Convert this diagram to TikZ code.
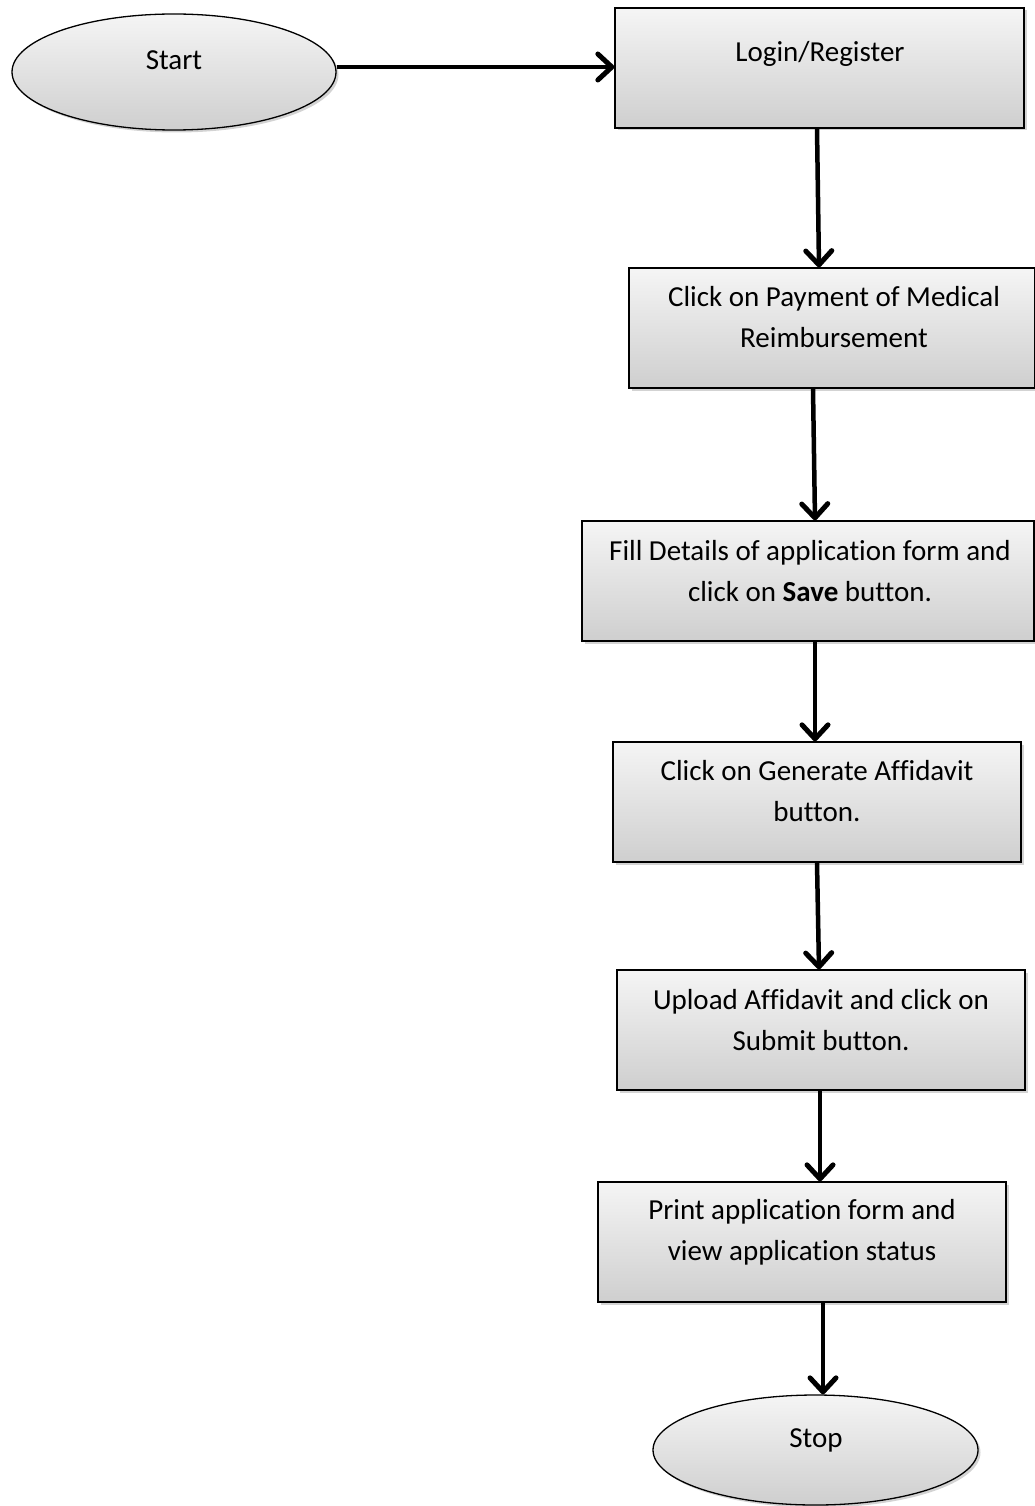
\documentclass[tikz,border=0pt]{standalone}
\usepackage{fontspec}
\setmainfont[Ligatures=NoCommon]{Carlito}
\usetikzlibrary{shapes.geometric,arrows.meta,shadows}
\begin{document}
\begin{tikzpicture}[x=1pt,y=-1pt,
  shapebase/.style={draw=black,line width=1.3pt,top color=gray!8,bottom color=gray!38,
    drop shadow={shadow xshift=2.5pt,shadow yshift=-2.5pt,opacity=0.35,fill=gray}},
  procbox/.style={shapebase,rectangle,minimum height=120pt,inner sep=0pt},
  term/.style={shapebase,ellipse,inner sep=0pt},
  lbl/.style={font=\fontsize{29}{41}\selectfont,align=center,inner sep=0pt},
  arr/.style={line width=4.5pt,-{Straight Barb[length=14pt,width=26pt,line width=5pt,round]}}]
\useasboundingbox (0,0) rectangle (1034,1506);
% shapes
\node[term,minimum width=324pt,minimum height=116pt] (start) at (174,72) {};
\node[procbox,minimum width=409pt] (login) at (819.5,68) {};
\node[procbox,minimum width=406pt] (pay) at (832,328) {};
\node[procbox,minimum width=452pt] (fill) at (808,581) {};
\node[procbox,minimum width=408pt] (aff) at (817,802) {};
\node[procbox,minimum width=408pt] (upl) at (821,1030) {};
\node[procbox,minimum width=408pt] (prn) at (802,1242) {};
\node[term,minimum width=325pt,minimum height=110pt] (stop) at (815.5,1450) {};
% texts
\node[lbl] (tstart) at (174,60) {Start};
\node[lbl] (tlogin) at (820,54) {Login/Register};
\node[lbl] (tpay) at (834,317) {Click on Payment of Medical\\Reimbursement};
\node[lbl] (tfill) at (810,571) {Fill Details of application form and\\click on \textbf{Save} button.};
\node[lbl] (taff) at (817,791) {Click on Generate Affidavit\\button.};
\node[lbl] (tupl) at (821,1020) {Upload Affidavit and click on\\Submit button.};
\node[lbl] (tprn) at (802,1232) {Print application form and\\view application status};
\node[lbl] (tstop) at (816,1440) {Stop};
% connector x positions
\coordinate (a1) at (817,0); \coordinate (b1) at (819,0);
\coordinate (a2) at (813,0); \coordinate (b2) at (815,0);
\coordinate (a3) at (815,0); \coordinate (b3) at (815,0);
\coordinate (a4) at (817,0); \coordinate (b4) at (819,0);
\coordinate (a5) at (820,0); \coordinate (b5) at (820,0);
\coordinate (a6) at (823,0); \coordinate (b6) at (823,0);
% connectors
\draw[arr] (start.east |- 0,67) -- (login.west |- 0,67);
\draw[arr] (a1 |- login.south) -- (b1 |- pay.north);
\draw[arr] (a2 |- pay.south) -- (b2 |- fill.north);
\draw[arr] (a3 |- fill.south) -- (b3 |- aff.north);
\draw[arr] (a4 |- aff.south) -- (b4 |- upl.north);
\draw[arr] (a5 |- upl.south) -- (b5 |- prn.north);
\draw[arr] (a6 |- prn.south) -- (b6 |- stop.north);
\end{tikzpicture}
\end{document}
